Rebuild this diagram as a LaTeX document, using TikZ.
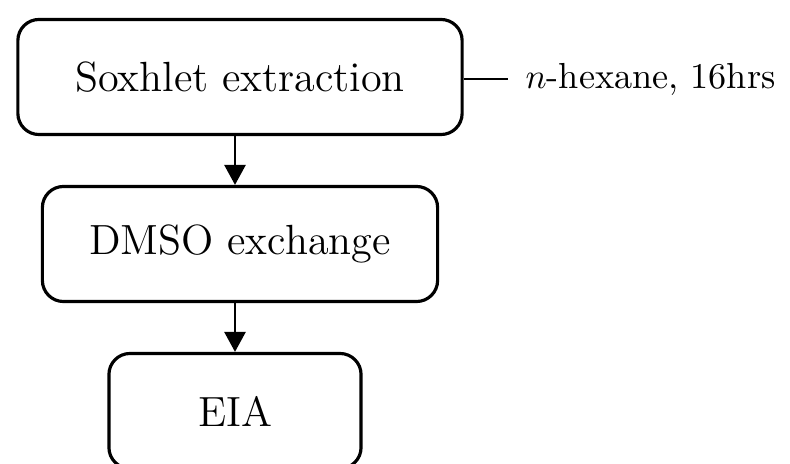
\documentclass[tikz,border=0pt]{standalone}
\usetikzlibrary{arrows.meta,calc}

\begin{document}
\begin{tikzpicture}[
  x=0.01cm, y=-0.01cm,
  stage/.style={draw, line width=0.9pt, rounded corners=6pt, align=center, font=\fontsize{12}{14}\selectfont, minimum height=1.15cm},
  arr/.style={-{Triangle[length=2mm, width=2.1mm]}, line width=0.8pt},
  cond/.style={anchor=west, inner sep=0pt, font=\fontsize{10.3}{12}\selectfont},
]
\useasboundingbox (0,0) rectangle (790,464);

% Process stages
\node[stage, minimum width=4.44cm] (soxhlet) at (240, 77) {Soxhlet extraction};
\node[stage, minimum width=3.95cm] (dmso)    at (240, 244) {DMSO exchange};
\node[stage, minimum width=2.52cm] (eia)     at (235, 411) {EIA};

% Conditions
\coordinate (tick) at (508, 79);
\node[cond] (hexane) at (525, 79) {$n$-hexane, 16hrs};
\draw[line width=0.8pt] (soxhlet.east |- tick) -- (tick);

% Arrows
\draw[arr] (soxhlet.south -| eia) -- (dmso.north -| eia);
\draw[arr] (dmso.south -| eia) -- (eia.north);

\end{tikzpicture}
\end{document}
